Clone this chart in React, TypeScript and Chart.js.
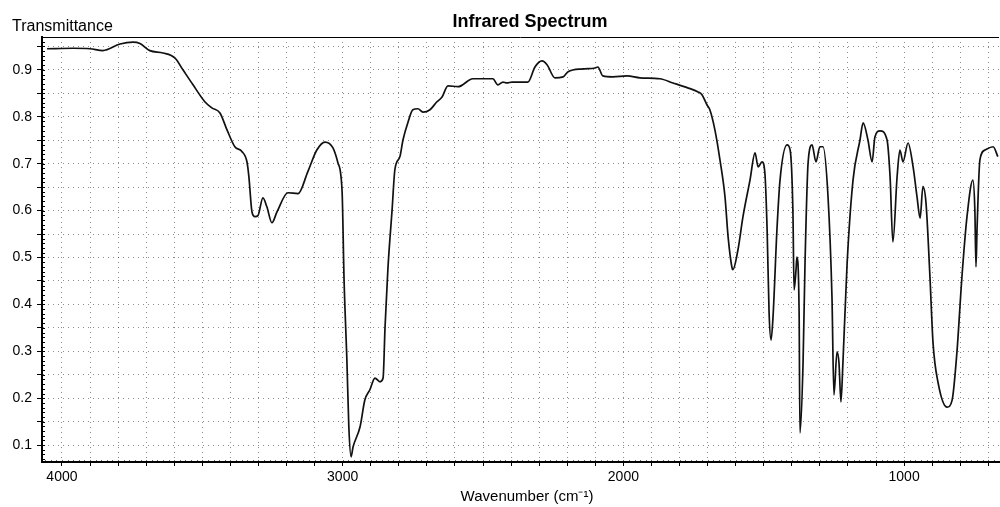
import React, { useEffect, useRef } from "react";
import { Chart, registerables } from "chart.js";

Chart.register(...registerables);

// Wavenumber (cm-1)
const wavenumber = [
  4053, 3961, 3900, 3854, 3793, 3747, 3722, 3687, 3640, 3597,
  3569, 3533, 3491, 3466, 3437, 3412, 3384, 3359, 3341, 3334,
  3323, 3312, 3302, 3284, 3270, 3252, 3234, 3195, 3159, 3124,
  3092, 3063, 3035, 3017, 3002, 2995, 2985, 2978, 2970, 2963,
  2938, 2921, 2903, 2885, 2867, 2856, 2849, 2839, 2824, 2814,
  2796, 2785, 2767, 2750, 2732, 2714, 2689, 2664, 2646, 2625,
  2589, 2536, 2465, 2447, 2429, 2415, 2397, 2340, 2315, 2290,
  2272, 2244, 2215, 2197, 2144, 2101, 2091, 2073, 2037, 1987,
  1941, 1870, 1823, 1773, 1734, 1720, 1702, 1692, 1674, 1656,
  1638, 1627, 1613, 1610, 1592, 1574, 1549, 1531, 1520, 1506,
  1496, 1488, 1481, 1474, 1467, 1453, 1442, 1417, 1406, 1396,
  1392, 1385, 1382, 1374, 1371, 1360, 1353, 1342, 1328, 1314,
  1300, 1289, 1271, 1257, 1250, 1239, 1232, 1225, 1218, 1203,
  1182, 1157, 1146, 1129, 1114, 1104, 1086, 1061, 1050, 1040,
  1025, 1015, 1004, 986, 968, 954, 943, 933, 922, 908,
  897, 879, 847, 829, 812, 794, 776, 755, 748, 744,
  740, 730, 712, 683, 666,
];

// Transmittance
const transmittance = [
  0.945, 0.946, 0.945, 0.941, 0.955, 0.959, 0.956, 0.941, 0.936, 0.925,
  0.900, 0.868, 0.832, 0.819, 0.808, 0.772, 0.736, 0.726, 0.704, 0.672,
  0.597, 0.587, 0.589, 0.627, 0.608, 0.574, 0.597, 0.638, 0.636, 0.683,
  0.729, 0.746, 0.734, 0.702, 0.640, 0.452, 0.282, 0.139, 0.075, 0.096,
  0.139, 0.196, 0.218, 0.243, 0.235, 0.243, 0.352, 0.474, 0.601, 0.687,
  0.715, 0.751, 0.789, 0.815, 0.817, 0.810, 0.815, 0.832, 0.842, 0.866,
  0.864, 0.881, 0.881, 0.868, 0.874, 0.872, 0.874, 0.874, 0.906, 0.919,
  0.911, 0.883, 0.885, 0.896, 0.902, 0.904, 0.906, 0.887, 0.885, 0.887,
  0.883, 0.881, 0.872, 0.862, 0.853, 0.847, 0.825, 0.815, 0.772, 0.708,
  0.629, 0.544, 0.478, 0.474, 0.516, 0.587, 0.665, 0.723, 0.693, 0.704,
  0.680, 0.559, 0.382, 0.324, 0.373, 0.559, 0.665, 0.740, 0.729, 0.595,
  0.431, 0.474, 0.501, 0.382, 0.126, 0.275, 0.488, 0.702, 0.740, 0.704,
  0.736, 0.736, 0.629, 0.416, 0.207, 0.299, 0.275, 0.192, 0.275, 0.488,
  0.665, 0.751, 0.787, 0.751, 0.704, 0.757, 0.770, 0.751, 0.672, 0.533,
  0.672, 0.729, 0.704, 0.744, 0.693, 0.629, 0.584, 0.651, 0.616, 0.459,
  0.318, 0.233, 0.181, 0.196, 0.297, 0.459, 0.587, 0.665, 0.601, 0.480,
  0.565, 0.708, 0.729, 0.736, 0.715,
];

const xGridValues = [
  4000, 3900, 3800, 3700, 3600, 3500, 3400, 3300, 3200, 3100,
  3000, 2900, 2800, 2700, 2600, 2500, 2400, 2300, 2200, 2100,
  2000, 1900, 1800, 1700, 1600, 1500, 1400, 1300, 1200, 1100,
  1000, 900, 800, 700,
];
const xLabelValues = [4000, 3000, 2000, 1000];
const yGridValues = [
  0.1, 0.15, 0.2, 0.25, 0.3, 0.35, 0.4, 0.45, 0.5, 0.55,
  0.6, 0.65, 0.7, 0.75, 0.8, 0.85, 0.9, 0.95,
];
const yLabelValues = [0.1, 0.2, 0.3, 0.4, 0.5, 0.6, 0.7, 0.8, 0.9];

const titleText = "Infrared Spectrum";
const yTitleText = "Transmittance";
const xTitleText = "Wavenumber (cm\u207B\u00B9)";

const FONT = "'Liberation Sans', Arial, Helvetica, sans-serif";

export default function App() {
  const ref = useRef<HTMLCanvasElement>(null);

  useEffect(() => {
    document.body.style.margin = "0";
    const canvas = ref.current;
    if (!canvas) return;

    const decorPlugin = {
      id: "decor",
      afterDraw(chart: any) {
        const ctx = chart.ctx as CanvasRenderingContext2D;
        const a = chart.chartArea;
        const ys = chart.scales.y;
        const xs = chart.scales.x;
        ctx.save();
        ctx.strokeStyle = "#000";
        ctx.lineWidth = 1;
        ctx.setLineDash([]);
        ctx.beginPath();
        ctx.moveTo(a.left, a.top + 0.5);
        ctx.lineTo(a.right, a.top + 0.5);
        // minor y ticks (inward)
        for (let i = 7; i <= 96; i++) {
          const py = Math.round(ys.getPixelForValue(i / 100)) + 0.5;
          ctx.moveTo(a.left, py);
          ctx.lineTo(a.left + 3, py);
        }
        ctx.stroke();
        // minor x ticks (inward)
        ctx.strokeStyle = "rgba(0,0,0,0.6)";
        ctx.beginPath();
        for (let w = 4060; w >= 670; w -= 20) {
          const px = Math.round(xs.getPixelForValue(w)) + 0.5;
          ctx.moveTo(px, a.bottom);
          ctx.lineTo(px, a.bottom - 2);
        }
        ctx.stroke();

        ctx.fillStyle = "#000";
        ctx.textBaseline = "alphabetic";
        ctx.font = `bold 18px ${FONT}`;
        ctx.textAlign = "center";
        ctx.fillText(titleText, 530, 27);
        ctx.font = `16px ${FONT}`;
        ctx.textAlign = "left";
        ctx.fillText(yTitleText, 12, 31);
        ctx.font = `15px ${FONT}`;
        ctx.textAlign = "center";
        ctx.fillText(xTitleText, 527, 501);
        ctx.restore();
      },
    };

    const chart = new Chart(canvas, {
      type: "line",
      data: {
        datasets: [
          {
            label: "Transmittance",
            data: wavenumber.map((w, i) => ({ x: w, y: transmittance[i] })),
            borderColor: "#111",
            borderWidth: 1.7,
            pointRadius: 0,
            fill: false,
            cubicInterpolationMode: "monotone",
          },
        ],
      },
      options: {
        responsive: false,
        animation: false,
        layout: { padding: { top: 37, right: 1, left: 0, bottom: 0 } },
        plugins: {
          legend: { display: false },
          tooltip: { enabled: false },
          title: { display: false },
        },
        scales: {
          x: {
            type: "linear",
            reverse: true,
            min: 662,
            max: 4071,
            afterBuildTicks: (s: any) => {
              s.ticks = xGridValues.map((v) => ({ value: v }));
            },
            afterFit: (s: any) => {
              s.height = 45;
            },
            ticks: {
              autoSkip: false,
              maxRotation: 0,
              padding: 3,
              color: "#000",
              font: { family: FONT, size: 14 },
              callback: (v: any) => (xLabelValues.includes(Number(v)) ? String(v) : ""),
            },
            grid: {
              color: "rgba(0,0,0,0.45)",
              lineWidth: 1,
              tickLength: 4,
              tickColor: "#000",
              tickWidth: 1,
              tickBorderDash: [],
            },
            border: { display: true, color: "#000", width: 2, dash: [1, 4] },
          },
          y: {
            type: "linear",
            min: 0.064,
            max: 0.97,
            afterBuildTicks: (s: any) => {
              s.ticks = yGridValues.map((v) => ({ value: v }));
            },
            afterFit: (s: any) => {
              s.width = 42;
            },
            ticks: {
              autoSkip: false,
              padding: 5,
              color: "#000",
              font: { family: FONT, size: 14 },
              callback: (v: any) =>
                yLabelValues.some((l) => Math.abs(l - Number(v)) < 1e-6)
                  ? Number(v).toFixed(1)
                  : "",
            },
            grid: {
              color: "rgba(0,0,0,0.45)",
              lineWidth: 1,
              tickLength: 5,
              tickColor: "#000",
              tickWidth: 1,
              tickBorderDash: [],
            },
            border: { display: true, color: "#000", width: 2, dash: [1, 4] },
          },
        },
      },
      plugins: [decorPlugin],
    } as any);

    return () => chart.destroy();
  }, []);

  return <canvas ref={ref} width={1000} height={507} style={{ display: "block" }} />;
}
